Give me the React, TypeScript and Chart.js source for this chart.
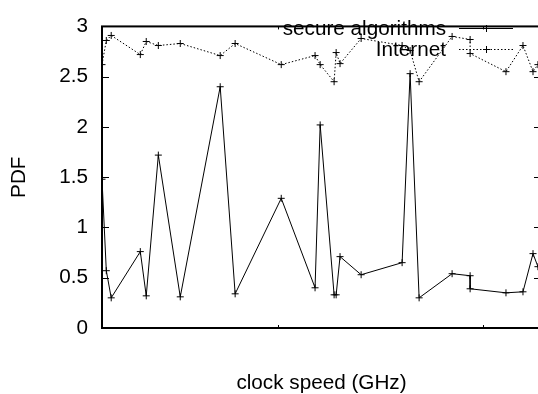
import React, { useEffect, useRef } from "react";
import { Chart, registerables } from "chart.js";

Chart.register(...registerables);

// ---- data ----
const clockSpeed = [
  0.14, 0.161, 0.185, 0.327, 0.356, 0.415, 0.522, 0.717, 0.79, 1.015, 1.18, 1.205,
  1.273, 1.283, 1.302, 1.405, 1.605, 1.644, 1.688, 1.849, 1.937, 1.937, 2.112,
  2.195, 2.244, 2.268, 2.3,
];
const secureAlgorithms = [
  1.48, 0.57, 0.3, 0.76, 0.32, 1.72, 0.31, 2.4, 0.34, 1.29, 0.4, 2.02,
  0.33, 0.33, 0.71, 0.53, 0.65, 2.53, 0.3, 0.54, 0.52, 0.39, 0.35,
  0.36, 0.74, 0.61, 0.42,
];
const internet = [
  2.62, 2.86, 2.91, 2.72, 2.85, 2.81, 2.83, 2.71, 2.83, 2.62, 2.71, 2.62,
  2.45, 2.74, 2.63, 2.88, 2.81, 2.76, 2.45, 2.9, 2.87, 2.73, 2.55,
  2.81, 2.55, 2.62, 2.78,
];
const seriesLabels = ["secure algorithms", "Internet"];
const yTickValues = [0, 0.5, 1, 1.5, 2, 2.5, 3];
const yTickLabels = ["0", "0.5", "1", "1.5", "2", "2.5", "3"];
const xTickValues = [1, 2];
const xTitle = "clock speed (GHz)";
const yTitle = "PDF";

const FONT = '"Liberation Sans", Arial, Helvetica, sans-serif';
const FONT_SIZE = 20.7;

const gnuplotPlugin = {
  id: "gnuplotDecor",
  afterDatasetsDraw(chart: any) {
    const { ctx, chartArea: a, scales } = chart;
    ctx.save();
    ctx.strokeStyle = "#000";
    // frame
    ctx.lineWidth = 2;
    ctx.strokeRect(a.left, a.top, a.right - a.left, a.bottom - a.top);
    // y ticks (inward, both sides)
    ctx.lineWidth = 1;
    ctx.beginPath();
    for (const v of yTickValues) {
      const y = Math.round(scales.y.getPixelForValue(v)) + 0.5;
      ctx.moveTo(a.left, y);
      ctx.lineTo(a.left + 7, y);
      ctx.moveTo(a.right, y);
      ctx.lineTo(a.right - 7, y);
    }
    // x ticks (tiny, inward)
    for (const v of xTickValues) {
      const x = Math.round(scales.x.getPixelForValue(v)) + 0.5;
      ctx.moveTo(x, a.bottom);
      ctx.lineTo(x, a.bottom - 3);
      ctx.moveTo(x, a.top);
      ctx.lineTo(x, a.top + 3);
    }
    ctx.stroke();

    // legend
    ctx.font = `${FONT_SIZE}px ${FONT}`;
    ctx.fillStyle = "#000";
    ctx.textAlign = "right";
    ctx.textBaseline = "middle";
    const textRight = 446;
    const lineStart = 459;
    const lineEnd = 513;
    const rows = [28, 49];
    chart.data.datasets.forEach((ds: any, i: number) => {
      const y = rows[i];
      ctx.fillText(ds.label, textRight, y + 1);
      ctx.save();
      ctx.lineWidth = 1;
      ctx.setLineDash(ds.borderDash || []);
      ctx.beginPath();
      ctx.moveTo(lineStart, y + 0.5);
      ctx.lineTo(lineEnd, y + 0.5);
      ctx.stroke();
      ctx.setLineDash([]);
      const mx = Math.round((lineStart + lineEnd) / 2) + 0.5;
      ctx.beginPath();
      ctx.moveTo(mx - 3.5, y + 0.5);
      ctx.lineTo(mx + 3.5, y + 0.5);
      ctx.moveTo(mx, y - 3);
      ctx.lineTo(mx, y + 4);
      ctx.stroke();
      ctx.restore();
    });

    // axis titles
    ctx.textAlign = "center";
    ctx.fillText(xTitle, (a.left + a.right) / 2, 383);
    ctx.save();
    ctx.translate(19, (a.top + a.bottom) / 2);
    ctx.rotate(-Math.PI / 2);
    ctx.fillText(yTitle, 0, 0);
    ctx.restore();
    ctx.restore();
  },
};

export default function App() {
  const canvasRef = useRef<HTMLCanvasElement | null>(null);

  useEffect(() => {
    const canvas = canvasRef.current;
    if (!canvas) return;
    const chart = new Chart(canvas, {
      type: "line",
      data: {
        datasets: [
          {
            label: seriesLabels[0],
            data: clockSpeed.map((x, i) => ({ x, y: secureAlgorithms[i] })),
            borderColor: "#000",
            borderWidth: 1,
            pointStyle: "cross",
            pointRadius: 3.5,
            pointBorderColor: "#000",
            pointBorderWidth: 1,
            tension: 0,
          },
          {
            label: seriesLabels[1],
            data: clockSpeed.map((x, i) => ({ x, y: internet[i] })),
            borderColor: "#000",
            borderWidth: 1,
            borderDash: [1.5, 2],
            pointStyle: "cross",
            pointRadius: 3.5,
            pointBorderColor: "#000",
            pointBorderWidth: 1,
            tension: 0,
          },
        ],
      },
      options: {
        responsive: false,
        animation: false,
        devicePixelRatio: 1,
        layout: { padding: { left: 0, top: 13, right: 7, bottom: 0 } },
        plugins: { legend: { display: false }, tooltip: { enabled: false } },
        scales: {
          x: {
            type: "linear",
            min: 0.14,
            max: 2.283,
            grid: { display: false },
            border: { display: false },
            ticks: { display: false },
            afterFit: (scale: any) => {
              scale.height = 66;
            },
          },
          y: {
            type: "linear",
            min: 0,
            max: 3,
            grid: { display: false, drawTicks: false },
            border: { display: false },
            afterBuildTicks: (scale: any) => {
              scale.ticks = yTickValues.map((v) => ({ value: v }));
            },
            ticks: {
              color: "#000",
              padding: 14,
              font: { family: FONT, size: FONT_SIZE },
              callback: (value: any) => {
                const idx = yTickValues.indexOf(Number(value));
                return idx >= 0 ? yTickLabels[idx] : "";
              },
            },
            afterFit: (scale: any) => {
              scale.width = 102;
            },
          },
        },
      },
      plugins: [gnuplotPlugin],
    });
    return () => chart.destroy();
  }, []);

  return (
    <div
      style={{
        position: "fixed",
        left: 0,
        top: 0,
        width: 538,
        height: 394,
        overflow: "hidden",
        background: "#fff",
      }}
    >
      <canvas ref={canvasRef} width={548} height={394} style={{ width: 548, height: 394, display: "block" }} />
    </div>
  );
}
